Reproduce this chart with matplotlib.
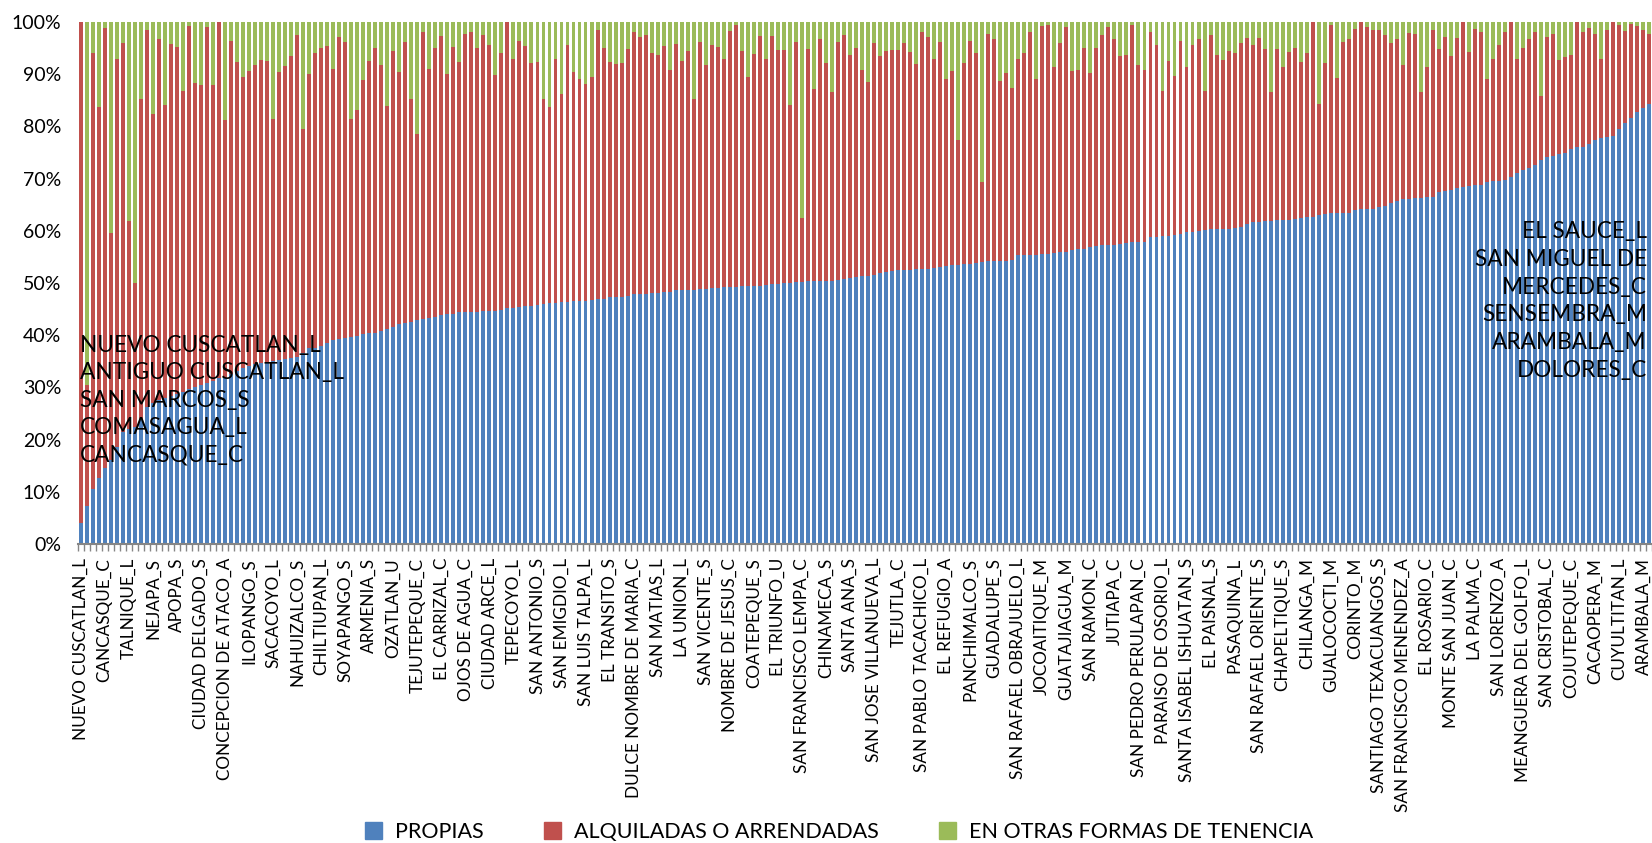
import numpy as np
import matplotlib
matplotlib.use('Agg')
import matplotlib.pyplot as plt
from matplotlib.patches import Patch

# porcentaje de viviendas por municipio, ordenado por PROPIAS
propias = [
    4.0, 7.3, 10.5, 12.6, 14.5, 16.0, 18.5, 21.5, 22.0, 22.5, 24.0, 26.3,
    27.0, 27.5, 28.0, 28.4, 28.8, 29.2, 29.6, 30.0, 30.5, 30.9, 31.2, 31.8,
    31.8, 32.5, 33.1, 33.7, 34.1, 34.4, 34.6, 34.8, 35.0, 35.2, 35.4, 35.6,
    35.8, 36.6, 37.5, 37.6, 37.9, 38.5, 39.1, 39.3, 39.5, 39.7, 39.9, 40.2,
    40.5, 40.5, 40.8, 41.2, 41.6, 42.1, 42.4, 42.5, 43.0, 43.1, 43.3, 43.5,
    43.9, 44.0, 44.1, 44.4, 44.5, 44.5, 44.5, 44.7, 44.7, 44.7, 44.9, 45.2,
    45.3, 45.4, 45.6, 45.6, 45.7, 45.9, 46.1, 46.2, 46.3, 46.4, 46.5, 46.6,
    46.6, 46.8, 46.9, 47.0, 47.3, 47.4, 47.4, 47.6, 47.8, 47.9, 47.9, 48.1,
    48.1, 48.2, 48.3, 48.6, 48.6, 48.6, 48.6, 48.8, 48.9, 49.0, 49.0, 49.2,
    49.2, 49.2, 49.4, 49.4, 49.5, 49.5, 49.7, 49.8, 49.9, 50.0, 50.0, 50.1,
    50.1, 50.3, 50.3, 50.4, 50.4, 50.4, 50.5, 50.7, 50.9, 51.1, 51.3, 51.3,
    51.5, 52.0, 52.1, 52.3, 52.4, 52.4, 52.5, 52.6, 52.6, 52.7, 52.8, 53.0,
    53.2, 53.4, 53.5, 53.6, 53.7, 53.8, 54.1, 54.2, 54.3, 54.3, 54.3, 54.4,
    55.3, 55.3, 55.3, 55.4, 55.5, 55.6, 55.7, 56.0, 56.0, 56.3, 56.5, 56.6,
    56.9, 57.1, 57.2, 57.3, 57.3, 57.4, 57.6, 57.8, 57.8, 57.9, 58.8, 58.9,
    59.0, 59.0, 59.2, 59.4, 59.7, 59.8, 59.9, 60.2, 60.3, 60.3, 60.4, 60.4,
    60.5, 60.8, 61.3, 61.6, 61.7, 61.8, 61.9, 62.0, 62.0, 62.1, 62.2, 62.4,
    62.6, 62.6, 63.0, 63.2, 63.5, 63.5, 63.5, 63.5, 63.9, 64.2, 64.2, 64.2,
    64.6, 64.7, 65.4, 65.7, 66.0, 66.1, 66.2, 66.3, 66.5, 66.5, 67.5, 67.6,
    67.9, 68.2, 68.3, 68.5, 68.7, 68.8, 69.4, 69.5, 69.6, 69.8, 70.3, 71.1,
    71.6, 72.0, 72.7, 73.5, 74.1, 74.4, 74.8, 74.9, 75.7, 76.0, 76.0, 76.6,
    77.3, 77.7, 78.0, 78.2, 79.5, 80.7, 81.7, 82.7, 83.5, 84.2,
]

alquiladas = [
    96.0, 23.2, 83.5, 71.2, 84.3, 43.6, 74.4, 74.4, 39.9, 27.5, 61.2, 72.2,
    55.4, 69.2, 56.1, 67.3, 66.5, 57.6, 69.6, 58.3, 57.5, 68.1, 56.8, 68.2,
    49.4, 63.9, 59.3, 55.7, 56.6, 57.4, 58.2, 57.8, 46.4, 55.3, 56.2, 57.9,
    61.7, 42.9, 52.5, 56.4, 57.1, 56.9, 51.9, 57.9, 56.7, 41.7, 43.2, 48.6,
    52.0, 54.6, 51.0, 42.8, 52.9, 48.4, 53.8, 42.7, 35.5, 54.9, 47.7, 51.6,
    53.5, 46.0, 51.2, 47.9, 53.2, 53.5, 50.6, 52.8, 50.9, 45.1, 49.2, 54.8,
    47.7, 51.0, 49.8, 46.6, 46.7, 39.4, 37.7, 46.7, 39.9, 49.2, 44.0, 42.4,
    41.5, 42.7, 51.6, 48.0, 45.0, 44.6, 44.8, 47.2, 50.2, 49.3, 49.7, 45.9,
    45.6, 47.2, 42.5, 47.1, 44.0, 45.8, 36.7, 47.3, 42.9, 46.5, 46.3, 43.8,
    49.1, 50.2, 45.0, 40.0, 44.3, 47.9, 43.3, 47.5, 44.7, 44.6, 34.1, 46.1,
    12.3, 44.5, 36.9, 46.3, 41.8, 36.2, 45.7, 46.9, 42.8, 43.9, 39.6, 37.3,
    44.4, 41.5, 42.4, 42.3, 42.2, 43.5, 41.8, 39.3, 45.4, 44.5, 40.2, 43.2,
    35.8, 37.2, 23.9, 38.6, 42.7, 40.3, 15.3, 43.5, 42.4, 34.4, 36.0, 32.9,
    37.6, 38.8, 42.7, 33.6, 43.7, 43.8, 35.6, 40.0, 43.0, 34.4, 34.3, 38.5,
    33.4, 38.0, 40.4, 41.7, 39.4, 36.1, 36.0, 41.6, 34.0, 32.9, 39.2, 36.7,
    27.8, 33.6, 30.5, 37.0, 31.6, 35.8, 36.8, 26.6, 37.3, 33.3, 32.4, 34.0,
    33.5, 35.2, 35.7, 33.9, 35.3, 33.0, 24.7, 32.8, 29.3, 32.2, 32.8, 29.9,
    31.4, 37.4, 21.3, 29.0, 35.9, 25.7, 32.7, 33.2, 34.8, 35.8, 34.8, 34.3,
    33.8, 32.9, 30.6, 31.0, 25.8, 31.7, 31.5, 20.3, 24.8, 32.0, 27.3, 29.6,
    25.6, 28.8, 31.7, 25.8, 30.0, 29.2, 19.7, 23.5, 26.0, 28.2, 29.7, 21.9,
    23.5, 24.7, 25.3, 12.4, 23.1, 23.3, 17.9, 18.3, 18.0, 24.0, 22.0, 22.2,
    20.4, 15.3, 20.5, 21.8, 20.0, 17.6, 17.9, 16.5, 15.0, 13.5,
]

otras = [
    0.0, 69.5, 6.0, 16.2, 1.2, 40.4, 7.1, 4.1, 38.1, 50.0, 14.8, 1.5,
    17.6, 3.3, 15.9, 4.3, 4.7, 13.2, 0.8, 11.7, 12.0, 1.0, 12.0, 0.0,
    18.8, 3.6, 7.6, 10.6, 9.3, 8.2, 7.2, 7.4, 18.6, 9.5, 8.4, 6.5,
    2.5, 20.5, 10.0, 6.0, 5.0, 4.6, 9.0, 2.8, 3.8, 18.6, 16.9, 11.2,
    7.5, 4.9, 8.2, 16.0, 5.5, 9.5, 3.8, 14.8, 21.5, 2.0, 9.0, 4.9,
    2.6, 10.0, 4.7, 7.7, 2.3, 2.0, 4.9, 2.5, 4.4, 10.2, 5.9, 0.0,
    7.0, 3.6, 4.6, 7.8, 7.6, 14.7, 16.2, 7.1, 13.8, 4.4, 9.5, 11.0,
    11.9, 10.5, 1.5, 5.0, 7.7, 8.0, 7.8, 5.2, 2.0, 2.8, 2.4, 6.0,
    6.3, 4.6, 9.2, 4.3, 7.4, 5.6, 14.7, 3.9, 8.2, 4.5, 4.7, 7.0,
    1.7, 0.6, 5.6, 10.6, 6.2, 2.6, 7.0, 2.7, 5.4, 5.4, 15.9, 3.8,
    37.6, 5.2, 12.8, 3.3, 7.8, 13.4, 3.8, 2.4, 6.3, 5.0, 9.1, 11.4,
    4.1, 6.5, 5.5, 5.4, 5.4, 4.1, 5.7, 8.1, 2.0, 2.8, 7.0, 3.8,
    11.0, 9.4, 22.6, 7.8, 3.6, 5.9, 30.6, 2.3, 3.3, 11.3, 9.7, 12.7,
    7.1, 5.9, 2.0, 11.0, 0.8, 0.6, 8.7, 4.0, 1.0, 9.3, 9.2, 4.9,
    9.7, 4.9, 2.4, 1.0, 3.3, 6.5, 6.4, 0.6, 8.2, 9.2, 2.0, 4.4,
    13.2, 7.4, 10.3, 3.6, 8.7, 4.4, 3.3, 13.2, 2.4, 6.4, 7.2, 5.6,
    6.0, 4.0, 3.0, 4.5, 3.0, 5.2, 13.4, 5.2, 8.7, 5.7, 5.0, 7.7,
    6.0, 0.0, 15.7, 7.8, 0.6, 10.8, 3.8, 3.3, 1.3, 0.0, 1.0, 1.5,
    1.6, 2.4, 4.0, 3.3, 8.2, 2.2, 2.3, 13.4, 8.7, 1.5, 5.2, 2.8,
    6.5, 3.0, 0.0, 5.7, 1.3, 2.0, 10.9, 7.0, 4.4, 2.0, 0.0, 7.0,
    4.9, 3.3, 2.0, 14.1, 2.8, 2.3, 7.3, 6.8, 6.3, 0.0, 2.0, 1.2,
    2.3, 7.0, 1.5, 0.0, 0.5, 1.7, 0.4, 0.8, 1.5, 2.3,
]

# una etiqueta cada 4 municipios
etiquetas = [
    'NUEVO CUSCATLAN_L', 'CANCASQUE_C', 'TALNIQUE_L', 'NEJAPA_S', 'APOPA_S',
    'CIUDAD DELGADO_S', 'CONCEPCION DE ATACO_A', 'ILOPANGO_S', 'SACACOYO_L',
    'NAHUIZALCO_S', 'CHILTIUPAN_L', 'SOYAPANGO_S', 'ARMENIA_S', 'OZATLAN_U',
    'TEJUTEPEQUE_C', 'EL CARRIZAL_C', 'OJOS DE AGUA_C', 'CIUDAD ARCE_L',
    'TEPECOYO_L', 'SAN ANTONIO_S', 'SAN EMIGDIO_L', 'SAN LUIS TALPA_L',
    'EL TRANSITO_S', 'DULCE NOMBRE DE MARIA_C', 'SAN MATIAS_L', 'LA UNION_L',
    'SAN VICENTE_S', 'NOMBRE DE JESUS_C', 'COATEPEQUE_S', 'EL TRIUNFO_U',
    'SAN FRANCISCO LEMPA_C', 'CHINAMECA_S', 'SANTA ANA_S',
    'SAN JOSE VILLANUEVA_L', 'TEJUTLA_C', 'SAN PABLO TACACHICO_L',
    'EL REFUGIO_A', 'PANCHIMALCO_S', 'GUADALUPE_S', 'SAN RAFAEL OBRAJUELO_L',
    'JOCOAITIQUE_M', 'GUATAJIAGUA_M', 'SAN RAMON_C', 'JUTIAPA_C',
    'SAN PEDRO PERULAPAN_C', 'PARAISO DE OSORIO_L', 'SANTA ISABEL ISHUATAN_S',
    'EL PAISNAL_S', 'PASAQUINA_L', 'SAN RAFAEL ORIENTE_S', 'CHAPELTIQUE_S',
    'CHILANGA_M', 'GUALOCOCTI_M', 'CORINTO_M', 'SANTIAGO TEXACUANGOS_S',
    'SAN FRANCISCO MENENDEZ_A', 'EL ROSARIO_C', 'MONTE SAN JUAN_C',
    'LA PALMA_C', 'SAN LORENZO_A', 'MEANGUERA DEL GOLFO_L', 'SAN CRISTOBAL_C',
    'COJUTEPEQUE_C', 'CACAOPERA_M', 'CUYULTITAN_L', 'ARAMBALA_M',
]

menores = ['NUEVO CUSCATLAN_L', 'ANTIGUO CUSCATLAN_L', 'SAN MARCOS_S',
           'COMASAGUA_L', 'CANCASQUE_C']
mayores = ['EL SAUCE_L', 'SAN MIGUEL DE', 'MERCEDES_C', 'SENSEMBRA_M',
           'ARAMBALA_M', 'DOLORES_C']

series = ['PROPIAS', 'ALQUILADAS O ARRENDADAS', 'EN OTRAS FORMAS DE TENENCIA']
colores = ['#4F81BD', '#C0504D', '#9BBB59']

plt.rcParams['font.family'] = ['Lato', 'DejaVu Sans']

W, H = 1652, 843
fig = plt.figure(figsize=(W / 100, H / 100), dpi=100)
ax = fig.add_axes([77.7 / W, 1 - 544 / H, (1652.3 - 77.7) / W, (544 - 22) / H])

n = len(propias)
x = np.arange(n)
p = np.array(propias)
a = np.array(alquiladas)
o = np.array(otras)
ax.bar(x, p, width=0.65, color=colores[0], linewidth=0)
ax.bar(x, a, bottom=p, width=0.65, color=colores[1], linewidth=0)
ax.bar(x, o, bottom=p + a, width=0.65, color=colores[2], linewidth=0)

ax.set_xlim(-0.5, n - 0.5)
ax.set_ylim(0, 100)
for s in ['top', 'right', 'left']:
    ax.spines[s].set_visible(False)
ax.spines['bottom'].set_color('#868686')
ax.spines['bottom'].set_linewidth(1.5)

ax.set_yticks(range(0, 101, 10))
ax.set_yticklabels([f'{v}%' for v in range(0, 101, 10)], fontsize=14)
ax.tick_params(axis='y', length=0, pad=12)

ax.set_xticks(x[::4])
ax.set_xticklabels(etiquetas, rotation=90, fontsize=12.3)
ax.set_xticks(np.arange(-0.5, n, 1), minor=True)
ax.tick_params(axis='x', which='major', length=0, pad=10)
ax.tick_params(axis='x', which='minor', length=5, color='#868686', width=1)

# nombres de los extremos
for k, nombre in enumerate(menores):
    ax.text(-0.1, 38.1 - 5.27 * k, nombre, fontsize=16.3, ha='left', va='center', zorder=5)
for k, nombre in enumerate(mayores):
    ax.text(n - 1.4, 59.8 - 5.3 * k, nombre, fontsize=16.3, ha='right', va='center', zorder=5)

handles = [Patch(color=c) for c in colores]
fig.legend(handles, series, loc='center', bbox_to_anchor=(0.508, 0.013), ncol=3,
           frameon=False, fontsize=15.5, handlelength=0.8, handleheight=0.8,
           columnspacing=2.8, handletextpad=0.6)

fig.savefig('out.png', dpi=100)
